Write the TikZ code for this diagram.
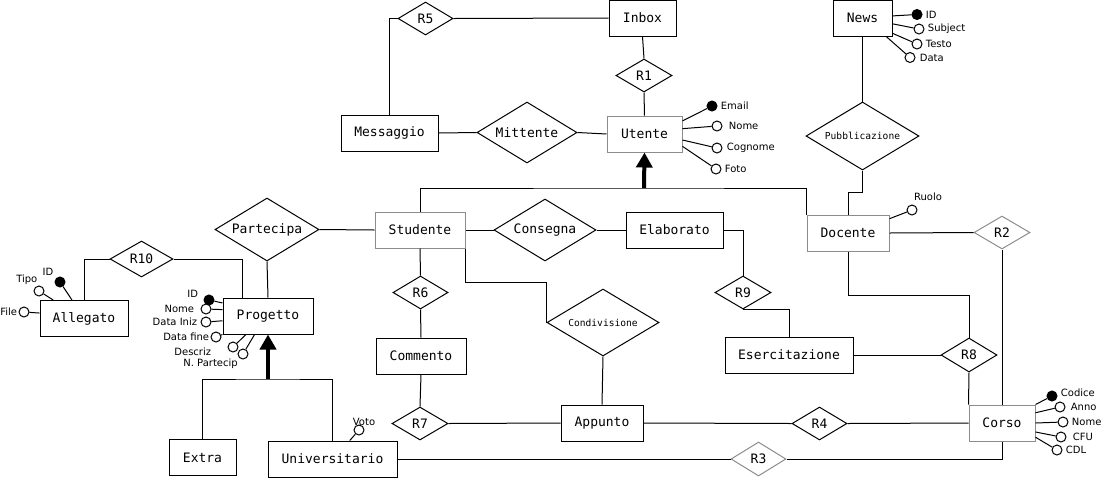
\documentclass[tikz,border=0pt]{standalone}
\usepackage{fontspec}
\setsansfont{DejaVu Sans}
\setmonofont{DejaVu Sans Mono}
\usetikzlibrary{arrows.meta,calc,positioning,shapes.geometric}

\newcommand\entfont{\ttfamily\fontsize{6.5pt}{7pt}\selectfont}
\newcommand\relfont{\ttfamily\fontsize{4.8pt}{5.5pt}\selectfont}
\newcommand\attfont{\sffamily\fontsize{5pt}{6pt}\selectfont}

\tikzset{
entity/.style={
  rectangle,
  line width=0.5pt,
  inner sep=0pt,
  minimum height=18pt,
  draw=black,
  font=\entfont,
  }
}
\tikzset{
relation/.style={
  diamond,
  shape aspect=1.65,
  line width=0.5pt,
  inner sep=0pt,
  draw=black,
  font=\entfont,
  }
}
\tikzset{
pale/.style={draw=black!45},
attr/.style={circle, line width=0.5pt, inner sep=0pt, minimum size=5pt, draw=black, fill=white},
keyattr/.style={attr, fill=black},
myline/.style={line width=0.5pt},
isa/.style={line width=2pt, -{Triangle[length=7.5pt,width=8pt]}}
}

\begin{document}
\begin{tikzpicture}[x=0.5pt,y=-0.5pt,label distance=1pt,
  every label/.style={font=\attfont, inner sep=0.5pt}]
    \useasboundingbox (0,0) rectangle (1104,478);

    % entities
    \node[entity, minimum width=33.5pt] (inbox) at (642.5,18) {Inbox};
    \node[entity, minimum width=29.5pt] (news) at (862.5,18) {News};
    \node[entity, minimum width=48.5pt] (messaggio) at (389.5,133) {Messaggio};
    \node[entity, pale, minimum width=37.5pt] (utente) at (644.5,134) {Utente};
    \node[entity, pale, minimum width=45pt] (studente) at (420,230) {Studente};
    \node[entity, minimum width=48.5pt] (elaborato) at (674.5,230) {Elaborato};
    \node[entity, pale, minimum width=41pt] (docente) at (848,233) {Docente};
    \node[entity, minimum width=45pt] (commento) at (421,356) {Commento};
    \node[entity, minimum width=64pt] (esercitazione) at (789,355) {Esercitazione};
    \node[entity, minimum width=41pt] (appunto) at (602,423) {Appunto};
    \node[entity, pale, minimum width=33pt] (corso) at (1002,423) {Corso};
    \node[entity, minimum width=33.5pt] (extra) at (202.5,457.5) {Extra};
    \node[entity, minimum width=64.5pt] (universitario) at (332.5,459) {Universitario};
    \node[entity, minimum width=45pt] (progetto) at (268,316) {Progetto};
    \node[entity, minimum width=44pt] (allegato) at (84,318.5) {Allegato};

    % relations
    \node[relation, minimum width=27.5pt, minimum height=16.5pt] (r5) at (425.5,18.5) {R5};
    \node[relation, minimum width=28pt, minimum height=16.5pt] (r1) at (644,75.5) {R1};
    \node[relation, minimum width=50pt, minimum height=30.5pt] (mittente) at (527,132.5) {Mittente};
    \node[relation, font=\relfont, minimum width=56.5pt, minimum height=34pt] (pubblicazione) at (862.5,136) {Pubblicazione};
    \node[relation, minimum width=52pt, minimum height=31.5pt] (partecipa) at (267,229.5) {Partecipa};
    \node[relation, minimum width=51pt, minimum height=31pt] (consegna) at (545,230) {Consegna};
    \node[relation, minimum width=27.5pt, minimum height=16.5pt] (r6) at (420.5,292.5) {R6};
    \node[relation, font=\relfont, minimum width=56pt, minimum height=33.5pt] (condivisione) at (603,322.5) {Condivisione};
    \node[relation, minimum width=28pt, minimum height=16.5pt] (r9) at (743,292.5) {R9};
    \node[relation, minimum width=31.5pt, minimum height=18pt] (r10) at (141.5,259) {R10};
    \node[relation, pale, minimum width=28pt, minimum height=16.5pt] (r2) at (1002,232.5) {R2};
    \node[relation, minimum width=28pt, minimum height=17pt] (r8) at (969,355) {R8};
    \node[relation, minimum width=28pt, minimum height=16.5pt] (r7) at (420,423.5) {R7};
    \node[relation, minimum width=27.5pt, minimum height=16.5pt] (r4) at (819.5,423.5) {R4};
    \node[relation, pale, minimum width=27.5pt, minimum height=17pt] (r3) at (758.5,459) {R3};

    % attributes
    \node[keyattr, label=right:Email] (uemail) at (712,106) {};
    \node[attr, label={[label distance=2.5pt]right:Nome}] (unome) at (717,126) {};
    \node[attr, label={[label distance=1.5pt]right:Cognome}] (ucognome) at (717,148) {};
    \node[attr, label=right:Foto] (ufoto) at (716,169) {};

    \node[keyattr, label=right:ID] (nid) at (917,14.5) {};
    \node[attr, label=right:Subject] (nsubject) at (919,29) {};
    \node[attr, label=right:Testo] (ntesto) at (917,44) {};
    \node[attr, label={[label distance=1.5pt]right:Data}] (ndata) at (910,57.5) {};

    \node[attr, label={[xshift=8pt]above:Ruolo}] (druolo) at (912,210) {};

    \node[keyattr, label={[yshift=1.5pt]right:Codice}] (ccodice) at (1052,396) {};
    \node[attr, label={[label distance=2pt]right:Anno}] (canno) at (1060,407) {};
    \node[attr, label=right:Nome] (cnome) at (1063,422) {};
    \node[attr, label={[label distance=2.5pt]right:CFU}] (ccfu) at (1061,437) {};
    \node[attr, label=right:CDL] (ccdl) at (1057,450) {};

    \node[attr, label={[xshift=2.5pt,label distance=-1.5pt]above:Voto}] (uvoto) at (359,430) {};

    \node[keyattr, label={[yshift=3pt,label distance=2pt]left:ID}] (pid) at (209,300) {};
    \node[attr, label={[label distance=2.5pt]left:Nome}] (pnome) at (206,309) {};
    \node[attr, label=left:Data Iniz] (pinizio) at (206,322) {};
    \node[attr, label={[label distance=0pt]left:Data fine}] (pfine) at (216,337) {};
    \node[attr, label={[xshift=-6.5pt,yshift=-2.5pt]left:Descriz}] (pdescr) at (233,347) {};
    \node[attr, label={[label distance=0pt]below left:N. Partecip}] (ppart) at (243,354) {};

    \node[keyattr, label=above left:ID] (aid) at (60,282) {};
    \node[attr, label={[xshift=2.5pt]above left:Tipo}] (atipo) at (39,291) {};
    \node[attr, label={[label distance=0pt]left:File}] (afile) at (24,312) {};

    % attribute edges
    \draw[myline] (utente.19) -- (uemail);
    \draw[myline] (utente.8) -- (unome);
    \draw[myline] (utente.351) -- (ucognome);
    \draw[myline] (utente.342) -- (ufoto);
    \draw[myline] (news.4) -- (nid);
    \draw[myline] (news.349) -- (nsubject);
    \draw[myline] (news.333) -- (ntesto);
    \draw[myline] (news.322.5) -- (ndata);
    \draw[myline] (docente.19) -- (druolo);
    \draw[myline] (corso.north east) -- (ccodice);
    \draw[myline] (corso.17) -- (canno);
    \draw[myline] (corso.east) -- (cnome);
    \draw[myline] (corso.345) -- (ccfu);
    \draw[myline] (corso.337) -- (ccdl);
    \draw[myline] (universitario.47.5) -- (uvoto);
    \draw[myline] (progetto.164) -- (pid);
    \draw[myline] (progetto.172) -- (pnome);
    \draw[myline] (progetto.186) -- (pinizio);
    \draw[myline] (progetto.south west) -- (pfine);
    \draw[myline] (progetto.220.6) -- (pdescr);
    \draw[myline] (progetto.234) -- (ppart);
    \draw[myline] (allegato.123) -- (aid);
    \draw[myline] (allegato.149) -- (atipo);
    \draw[myline] (allegato.173) -- (afile);

    % relation edges
    \draw[myline] (r5.west) -| (messaggio.north);
    \draw[myline] (r5.east) -- (inbox.west);
    \draw[myline] (inbox.south) -- (r1.north);
    \draw[myline] (r1.south) -- (utente.north);
    \draw[myline] (messaggio.east) -- (mittente.west);
    \draw[myline] (mittente.east) -- (utente.west);
    \draw[myline] (news.south) -- (pubblicazione.north);
    \draw[myline] (pubblicazione.south) -- ++(0,22) -| (docente.north);
    \draw[myline] (partecipa.east) -- (studente.west);
    \draw[myline] (studente.east) -- (consegna.west);
    \draw[myline] (consegna.east) -- (elaborato.west);
    \draw[myline] (elaborato.east) -| (r9.north);
    \draw[myline] (r9.south) -| (esercitazione.north);
    \draw[myline] (studente.south) -- (r6.north);
    \draw[myline] (r6.south) -- (commento.north);
    \draw[myline] (studente.south east) -- ++(0,34) -| (condivisione.west);
    \draw[myline] (condivisione.south) -- (appunto.north);
    \draw[myline] (commento.south) -- (r7.north);
    \draw[myline] (r7.east) -- (appunto.west);
    \draw[myline] (appunto.east) -- (r4.west);
    \draw[myline] (r4.east) -- (corso.west);
    \draw[myline] (docente.east) -- (r2.west);
    \draw[myline] (r2.south) -- (corso.north);
    \draw[myline] (docente.south) -- ++(0,44) -| (r8.north);
    \draw[myline] (esercitazione.east) -- (r8.west);
    \draw[myline] (r8.south) -- (corso.north west);
    \draw[myline] (corso.south) |- (r3.east);
    \draw[myline] (r3.west) -- (universitario.east);
    \draw[myline] (partecipa.south) -- (progetto.north);
    \draw[myline] (r10.west) -| (allegato.north);
    \draw[myline] (r10.east) -| ($(progetto.north)-(26,0)$);

    % generalisations
    \coordinate (isau) at (644,188);
    \draw[isa] (isau) -- (utente.south);
    \draw[myline] (studente.north) |- (isau) -| (docente.north west);
    \coordinate (isap) at (268,379);
    \draw[isa] (isap) -- (progetto.south);
    \draw[myline] (extra.north) |- (isap) -| (universitario.north);
\end{tikzpicture}
\end{document}
